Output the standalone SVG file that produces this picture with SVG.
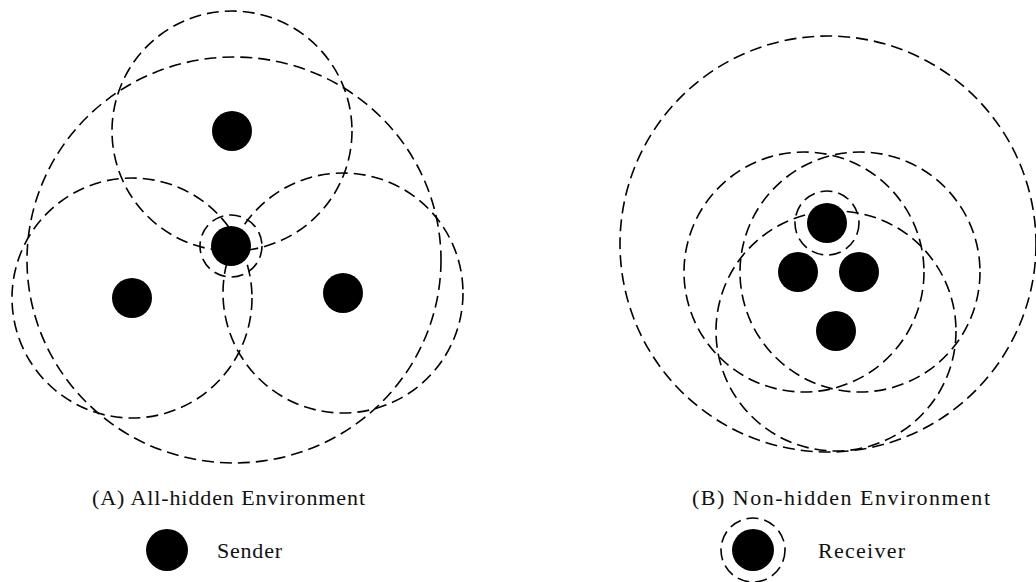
<svg xmlns="http://www.w3.org/2000/svg" width="1036" height="582" viewBox="0 0 1036 582">
  <style>
    .range { fill: none; stroke: #000; stroke-width: 1.6; stroke-dasharray: 12 6; }
    .ring { fill: none; stroke: #000; stroke-width: 1.6; stroke-dasharray: 12 6; }
    .node { fill: #000; }
    .cap { font-family: "Liberation Serif", "Times New Roman", serif; font-size: 22px; fill: #111; }
    .leg { font-family: "Liberation Serif", "Times New Roman", serif; font-size: 22px; fill: #111; }
  </style>
  <rect width="1036" height="582" fill="#fff"/>

  <!-- Panel A: All-hidden environment -->
  <g id="panel-a">
    <g id="connectors-a">
      <ellipse class="range" cx="234" cy="260" rx="207" ry="203"/>
      <circle class="range" cx="232" cy="131" r="120"/>
      <circle class="range" cx="132" cy="298" r="120"/>
      <circle class="range" cx="343" cy="293" r="120"/>
    </g>
    <g id="a-sender-top"><circle class="node" cx="232" cy="131" r="20"/></g>
    <g id="a-sender-left"><circle class="node" cx="132" cy="298" r="20"/></g>
    <g id="a-sender-right"><circle class="node" cx="343" cy="293" r="20"/></g>
    <g id="a-receiver">
      <circle class="node" cx="231" cy="246" r="20"/>
      <circle class="ring" cx="231" cy="246" r="31"/>
    </g>
    <text id="caption-a" class="cap" x="92" y="505" textLength="273" lengthAdjust="spacing">(A) All-hidden Environment</text>
  </g>

  <!-- Panel B: Non-hidden environment -->
  <g id="panel-b">
    <g id="connectors-b">
      <circle class="range" cx="828" cy="244" r="208"/>
      <circle class="range" cx="804" cy="272" r="120"/>
      <circle class="range" cx="860" cy="272" r="120"/>
      <circle class="range" cx="836" cy="331" r="120"/>
    </g>
    <g id="b-receiver">
      <circle class="node" cx="827" cy="223" r="20"/>
      <circle class="ring" cx="827" cy="223" r="32"/>
    </g>
    <g id="b-sender-left"><circle class="node" cx="798" cy="272" r="20"/></g>
    <g id="b-sender-right"><circle class="node" cx="859" cy="272" r="20"/></g>
    <g id="b-sender-bottom"><circle class="node" cx="836" cy="331" r="20"/></g>
    <text id="caption-b" class="cap" x="692" y="505" textLength="298" lengthAdjust="spacing">(B) Non-hidden Environment</text>
  </g>

  <!-- Legend -->
  <g id="legend-sender">
    <circle class="node" cx="167" cy="550" r="21"/>
    <text class="leg" x="217" y="558" textLength="65" lengthAdjust="spacing">Sender</text>
  </g>
  <g id="legend-receiver">
    <circle class="node" cx="753" cy="550" r="21"/>
    <circle class="ring" cx="753" cy="550" r="32"/>
    <text class="leg" x="818" y="558" textLength="87" lengthAdjust="spacing">Receiver</text>
  </g>
</svg>
